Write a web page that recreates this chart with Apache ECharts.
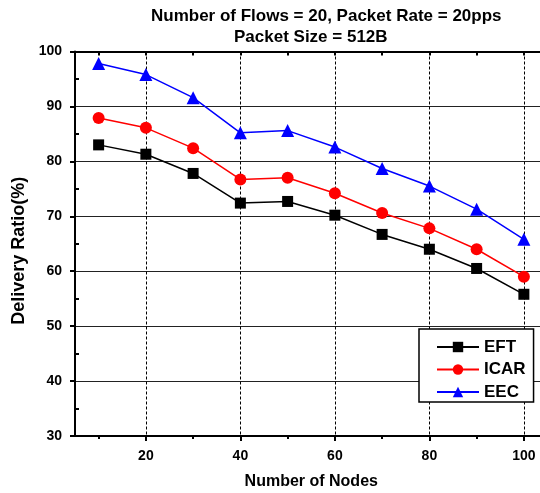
<!DOCTYPE html>
<html>
<head>
<meta charset="utf-8">
<script src="https://cdn.jsdelivr.net/npm/echarts@6/dist/echarts.min.js"></script>
<style>html,body{margin:0;padding:0;background:#fff;}#c{width:540px;height:493px;}</style>
</head>
<body>
<div id="c"></div>
<script>
const nodes = [10, 20, 30, 40, 50, 60, 70, 80, 90, 100];
const eft  = [83.0, 81.3, 77.8, 72.4, 72.7, 70.2, 66.7, 64.0, 60.5, 55.8];
const icar = [87.9, 86.1, 82.4, 76.7, 77.0, 74.2, 70.6, 67.8, 64.0, 59.0];
const eec  = [97.8, 95.8, 91.6, 85.2, 85.6, 82.6, 78.7, 75.5, 71.3, 65.8];
const xMajorValues = [20, 40, 60, 80, 100];
const xMinorValues = [10, 30, 50, 70, 90];
const xAllTickValues = [10, 20, 30, 40, 50, 60, 70, 80, 90, 100];
const yMinorValues = [35, 45, 55, 65, 75, 85, 95];
const titleLine1 = 'Number of Flows = 20, Packet Rate = 20pps';
const titleLine2 = 'Packet Size = 512B';

const FONT = 'Liberation Sans, Arial, sans-serif';
const pairs = arr => nodes.map((n, i) => [n, arr[i]]);
const blackLine = w => ({color: '#000', width: w});

const chart = echarts.init(document.getElementById('c'), null, {renderer: 'canvas'});
chart.setOption({
  backgroundColor: '#fff',
  animation: false,
  title: [
    {text: titleLine1, left: 151, top: 8, padding: 0, textStyle: {fontFamily: FONT, fontWeight: 'bold', fontSize: 17, color: '#000'}},
    {text: titleLine2, left: 234, top: 29, padding: 0, textStyle: {fontFamily: FONT, fontWeight: 'bold', fontSize: 17, color: '#000'}}
  ],
  grid: {left: 75, top: 51.5, width: 472.5, bottom: 57, containLabel: false, outerBoundsMode: 'none'},
  legend: {
    left: 419, top: 329, orient: 'vertical',
    backgroundColor: '#fff', borderColor: '#000', borderWidth: 1.5, borderRadius: 0,
    padding: [9, 8, 1, 17],
    itemWidth: 42, itemHeight: 13, itemGap: 4.5,
    textStyle: {fontFamily: FONT, fontWeight: 'bold', fontSize: 17, color: '#000', lineHeight: 18},
    data: ['EFT', 'ICAR', 'EEC']
  },
  xAxis: [
    {
      type: 'value', min: 5, max: 105, position: 'bottom',
      name: 'Number of Nodes', nameLocation: 'middle', nameGap: 38,
      nameTextStyle: {fontFamily: FONT, fontWeight: 'bold', fontSize: 16, color: '#000'},
      axisLine: {show: true, onZero: false, lineStyle: blackLine(2)},
      axisTick: {show: true, inside: false, length: 5, customValues: xMajorValues, lineStyle: blackLine(2)},
      axisLabel: {show: true, customValues: xMajorValues, margin: 13, fontFamily: FONT, fontWeight: 'bold', fontSize: 14, color: '#000'},
      splitLine: {show: true, lineStyle: {color: '#000', width: 1, type: [3, 2]}}
    },
    {
      type: 'value', min: 5, max: 105, position: 'bottom',
      axisLine: {show: false},
      axisTick: {show: true, inside: false, length: 3, customValues: xMinorValues, lineStyle: blackLine(2)},
      axisLabel: {show: false},
      splitLine: {show: false}
    },
    {
      type: 'value', min: 5, max: 105, position: 'top',
      axisLine: {show: true, onZero: false, lineStyle: blackLine(2)},
      axisTick: {show: true, inside: true, length: 4, customValues: xAllTickValues, lineStyle: blackLine(2)},
      axisLabel: {show: false},
      splitLine: {show: false}
    }
  ],
  yAxis: [
    {
      type: 'value', min: 30, max: 100, interval: 10, position: 'left',
      name: 'Delivery Ratio(%)', nameLocation: 'middle', nameGap: 41,
      nameTextStyle: {fontFamily: FONT, fontWeight: 'bold', fontSize: 18, color: '#000', padding: [0, 14, 0, 0]},
      axisLine: {show: true, onZero: false, lineStyle: blackLine(2)},
      axisTick: {show: true, inside: false, length: 5, lineStyle: blackLine(2)},
      axisLabel: {margin: 13, fontFamily: FONT, fontWeight: 'bold', fontSize: 14, color: '#000'},
      splitLine: {show: true, lineStyle: {color: '#222', width: 1}}
    },
    {
      type: 'value', min: 30, max: 100, position: 'left',
      axisLine: {show: false},
      axisTick: {show: true, inside: true, length: 4, customValues: yMinorValues, lineStyle: blackLine(2)},
      axisLabel: {show: false},
      splitLine: {show: false}
    }
  ],
  series: [
    {name: 'EFT', type: 'line', data: pairs(eft), symbol: 'rect', symbolSize: 11,
     lineStyle: {color: '#000', width: 1.5}, itemStyle: {color: '#000'}},
    {name: 'ICAR', type: 'line', data: pairs(icar), symbol: 'circle', symbolSize: 12,
     lineStyle: {color: '#ff0000', width: 1.5}, itemStyle: {color: '#ff0000'}},
    {name: 'EEC', type: 'line', data: pairs(eec), symbol: 'triangle', symbolSize: 13,
     lineStyle: {color: '#0000ff', width: 1.5}, itemStyle: {color: '#0000ff'}}
  ]
});
</script>
</body>
</html>
